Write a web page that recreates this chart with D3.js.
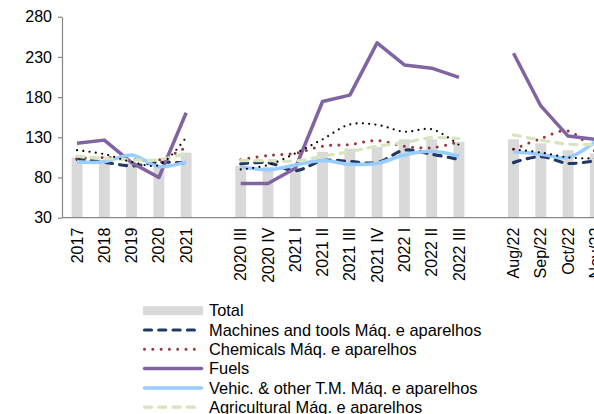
<!DOCTYPE html>
<html>
<head>
<meta charset="utf-8">
<script src="https://cdn.jsdelivr.net/npm/d3@7"></script>
<style>
  html, body { margin: 0; padding: 0; background: #fff; overflow: hidden; }
  svg { display: block; font-family: "Liberation Sans", Arial, sans-serif; }
</style>
</head>
<body>
<svg id="chart" width="594" height="414"></svg>
<script>
// Periods: yearly, quarterly and monthly blocks, separated by empty slots (null)
const periods = ["2017", "2018", "2019", "2020", "2021", null,
  "2020 III", "2020 IV", "2021 I", "2021 II", "2021 III", "2021 IV", "2022 I", "2022 II", "2022 III", null,
  "Aug/22", "Sep/22", "Oct/22", "Nov/22"];

const total        = [105, 102, 98, 93, 111, null, 94.5, 93.5, 92, 112, 116, 118, 127.5, 127.5, 124.5, null, 127.5, 122.5, 114, 110];
const machines     = [102.5, 99, 94.5, 99, 98, null, 97, 98.5, 88.5, 101, 100, 98.5, 114, 109, 102.5, null, 98.5, 106, 97.5, 101];
const chemicals    = [103.5, 105, 103, 102, 117.5, null, 102, 107.5, 110, 119, 121, 126, 119, 117, 124.5, null, 115, 128.5, 138, 112];
const fuels        = [122.5, 126.5, 98.5, 80, 160.5, null, 72.5, 72.5, 91.5, 174.5, 182.5, 247.5, 220, 216, 204.5, null, 234.5, 169, 131.5, 127.5];
const vehicles     = [99.5, 99.5, 108, 93.5, 99.5, null, 93.5, 89.5, 95.5, 101, 96.5, 97.5, 108, 112.5, 106.5, null, 112, 109, 105, 124.5];
const agricultural = [106.5, 103.5, 102, 102, 110, null, 101, 101, 100.5, 106.5, 112, 119, 123.5, 129.5, 128.5, null, 133, 126.5, 121.5, 121];
const otherGoods   = [114, 109, 99.5, 95.5, 130, null, 90, 95.5, 110, 127.5, 146, 145.5, 137, 140, 120.5, null, 115, 111, 105, 103.5];

const yTicks = [30, 80, 130, 180, 230, 280];

const legendNames = ["Total", "Machines and tools Máq. e aparelhos", "Chemicals Máq. e aparelhos",
  "Fuels", "Vehic. & other T.M. Máq. e aparelhos", "Agricultural Máq. e aparelhos"];

// Line series styling (drawn in this order)
const lineSeries = [
  { name: legendNames[1], values: machines,     color: "#1f3864", width: 3.2, dash: "7,7.3",  cap: "round", curve: true },
  { name: legendNames[2], values: chemicals,    color: "#993535", width: 3,   dash: "0,8.3",  cap: "round", curve: true },
  { name: legendNames[3], values: fuels,        color: "#8064a2", width: 3.5, dash: null,     cap: "butt",  curve: false },
  { name: legendNames[4], values: vehicles,     color: "#99ccff", width: 3.5, dash: null,     cap: "butt",  curve: true },
  { name: legendNames[5], values: agricultural, color: "#d7e4bd", width: 3.2, dash: "7,7.3",  cap: "round", curve: true },
  { name: "other",        values: otherGoods,   color: "#000000", width: 2.2, dash: "0,6.3",  cap: "round", curve: true }
];

const svg = d3.select("#chart");
const plotLeft = 62, plotBottom = 217.7, plotTop = 16.7;

const slots = d3.range(periods.length);
const x = d3.scaleBand().domain(slots).range([63.4, 609]).paddingInner(0.6).paddingOuter(0.3);
const y = d3.scaleLinear().domain([30, 280]).range([plotBottom, plotTop]);
const cx = i => x(i) + x.bandwidth() / 2;

// Bars (Total)
svg.append("g").selectAll("rect")
  .data(slots.filter(i => total[i] != null))
  .join("rect")
  .attr("x", i => x(i))
  .attr("width", x.bandwidth())
  .attr("y", i => y(total[i]))
  .attr("height", i => y(30) - y(total[i]))
  .attr("fill", "#d9d9d9");

// Lines, broken at the empty slots
const lineSmooth = d3.line().defined(d => d.v != null).x(d => cx(d.i)).y(d => y(d.v)).curve(d3.curveCatmullRom.alpha(0.5));
const lineStraight = d3.line().defined(d => d.v != null).x(d => cx(d.i)).y(d => y(d.v));

const linesG = svg.append("g");
lineSeries.forEach(s => {
  const pts = s.values.map((v, i) => ({ i, v }));
  linesG.append("path")
    .attr("d", (s.curve ? lineSmooth : lineStraight)(pts))
    .attr("fill", "none")
    .attr("stroke", s.color)
    .attr("stroke-width", s.width)
    .attr("stroke-linecap", s.cap)
    .attr("stroke-linejoin", "round")
    .attr("stroke-dasharray", s.dash);
});

// Y axis
const yAxis = svg.append("g")
  .attr("transform", `translate(${plotLeft},0)`)
  .call(d3.axisLeft(y).tickValues(yTicks).tickSize(4).tickPadding(6).tickSizeOuter(0));
yAxis.select(".domain").attr("stroke", "#888").attr("stroke-width", 1.2);
yAxis.selectAll(".tick line").attr("stroke", "#888").attr("stroke-width", 1.2);
yAxis.selectAll("text").attr("font-size", 16).attr("fill", "#000")
  .attr("font-family", "'Liberation Sans', Arial, sans-serif");

// X axis with rotated labels
const xAxis = svg.append("g")
  .attr("transform", `translate(0,${plotBottom})`)
  .call(d3.axisBottom(x).tickValues(slots.filter(i => periods[i] != null))
    .tickFormat(i => periods[i]).tickSize(0));
xAxis.select(".domain").remove();
xAxis.selectAll("text")
  .attr("font-size", 16).attr("fill", "#000")
  .attr("font-family", "'Liberation Sans', Arial, sans-serif")
  .attr("text-anchor", "end")
  .attr("transform", "rotate(-90)")
  .attr("x", -10).attr("y", 0).attr("dy", "0.35em");
svg.append("line")
  .attr("x1", plotLeft).attr("x2", 594)
  .attr("y1", plotBottom).attr("y2", plotBottom)
  .attr("stroke", "#888").attr("stroke-width", 1.2);

// Legend
const legend = svg.append("g");
const legendY0 = 310.7, legendStep = 19.3, swX0 = 143, swX1 = 203;
legend.append("rect")
  .attr("x", swX0).attr("y", legendY0 - 4.5).attr("width", swX1 - swX0).attr("height", 9)
  .attr("fill", "#d9d9d9");
lineSeries.slice(0, 5).forEach((s, k) => {
  const ly = legendY0 + legendStep * (k + 1);
  legend.append("line")
    .attr("x1", swX0 + 1.5).attr("x2", swX1 - 1.5).attr("y1", ly).attr("y2", ly)
    .attr("stroke", s.color)
    .attr("stroke-width", s.width)
    .attr("stroke-linecap", "round")
    .attr("stroke-dasharray", s.dash);
});
legendNames.forEach((name, k) => {
  legend.append("text")
    .attr("x", 209).attr("y", legendY0 + legendStep * k)
    .attr("dy", "0.35em")
    .attr("font-size", 16.4)
    .attr("fill", "#000")
    .text(name);
});
</script>
</body>
</html>
